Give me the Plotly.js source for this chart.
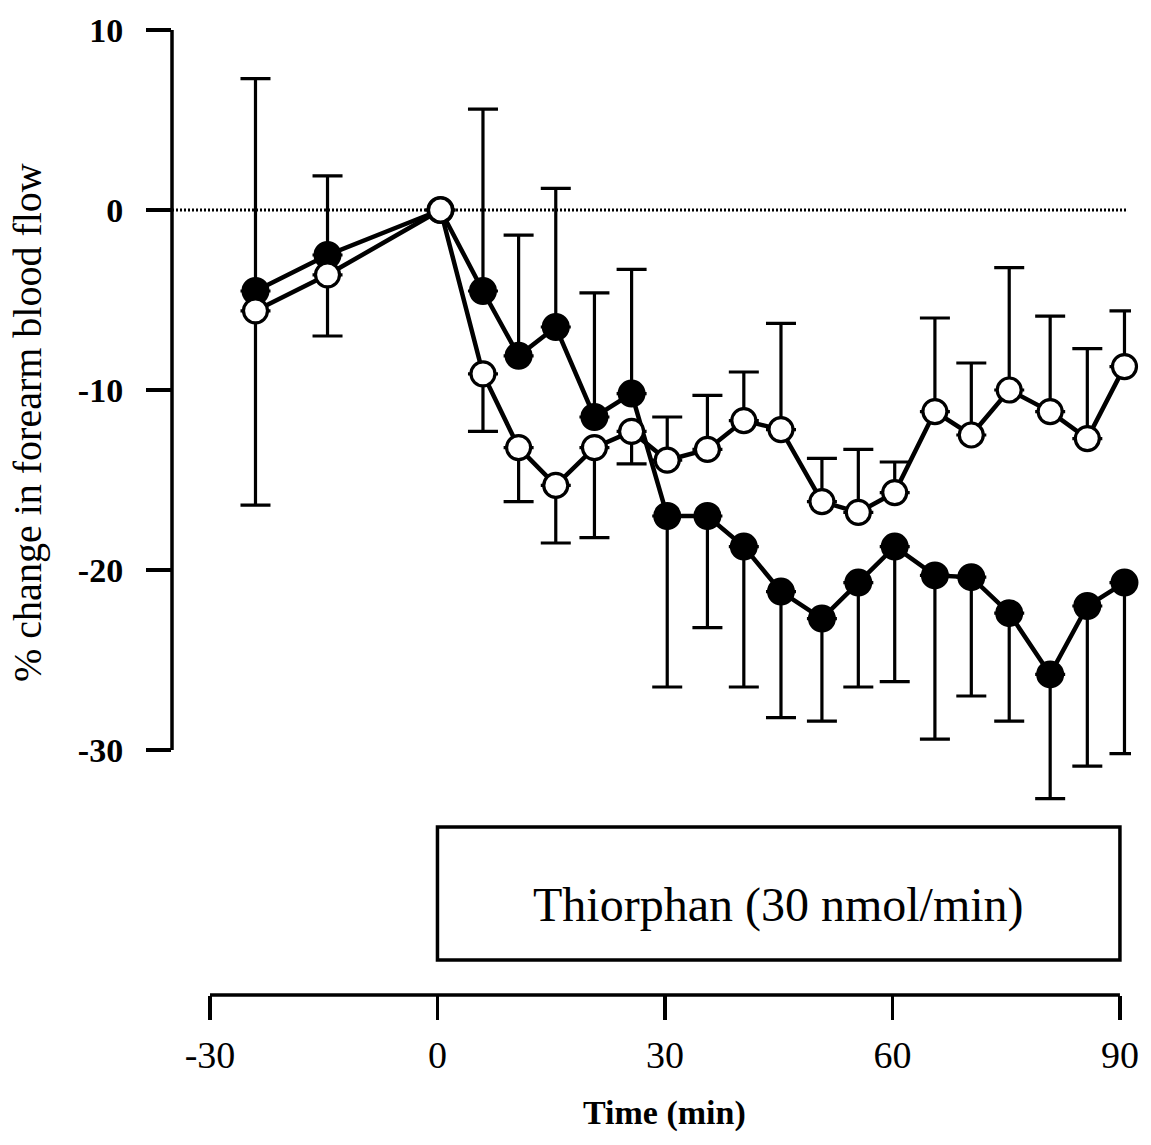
<!DOCTYPE html>
<html>
<head>
<meta charset="utf-8">
<script src="https://cdn.plot.ly/plotly-3.0.1.min.js"></script>
<style>html,body{margin:0;padding:0;background:#fff;}#chart{width:1151px;height:1145px;}</style>
</head>
<body>
<div id="chart"></div>
<script>
// Time points (min)
var time = [-24, -14.5, 0.4, 6, 10.7, 15.6, 20.7, 25.6, 30.3, 35.6, 40.4, 45.3, 50.7, 55.5, 60.3, 65.6, 70.4, 75.4, 80.8, 85.7, 90.6];

// Filled circles: % change in forearm blood flow
var filledMean = [-4.5, -2.5, 0, -4.5, -8.1, -6.5, -11.5, -10.2, -17.0, -17.0, -18.7, -21.2, -22.7, -20.7, -18.7, -20.3, -20.4, -22.4, -25.8, -22.0, -20.7];
var filledErrUp = [11.8, 4.4, 0, 10.1, 6.7, 7.7, 6.9, 6.9, 0, 0, 0, 0, 0, 0, 0, 0, 0, 0, 0, 0, 0];
var filledErrDown = [0, 0, 0, 0, 0, 0, 0, 0, 9.5, 6.2, 7.8, 7.0, 5.7, 5.8, 7.5, 9.1, 6.6, 6.0, 6.9, 8.9, 9.5];

// Open circles
var openMean = [-5.6, -3.6, 0, -9.1, -13.2, -15.3, -13.2, -12.3, -13.9, -13.3, -11.7, -12.2, -16.2, -16.8, -15.7, -11.2, -12.5, -10.0, -11.2, -12.7, -8.7];
var openErrUp = [0, 0, 0, 0, 0, 0, 0, 0, 2.4, 3.0, 2.7, 5.9, 2.4, 3.5, 1.7, 5.2, 4.0, 6.8, 5.3, 5.0, 3.1];
var openErrDown = [10.8, 3.4, 0, 3.2, 3.0, 3.2, 5.0, 1.8, 0, 0, 0, 0, 0, 0, 0, 0, 0, 0, 0, 0, 0];

var xTicks = [-30, 0, 30, 60, 90];
var yTicks = [10, 0, -10, -20, -30];
var xTitle = 'Time (min)';
var yTitle = '% change in forearm blood flow';
var boxLabel = 'Thiorphan (30 nmol/min)';
var infusionStart = 0, infusionEnd = 90;

var serif = 'Liberation Serif, DejaVu Serif, serif';

function errObj(up, down) {
  return {type: 'data', symmetric: false, array: up, arrayminus: down,
          color: '#000', thickness: 3.2, width: 15, visible: true};
}

var traces = [
  {x: time, y: filledMean, type: 'scatter', mode: 'lines+markers', name: 'filled',
   line: {color: '#000', width: 4.5},
   marker: {symbol: 'circle', size: 25, color: '#000', line: {color: '#000', width: 3}},
   error_y: errObj(filledErrUp, filledErrDown), cliponaxis: false},
  {x: time, y: openMean, type: 'scatter', mode: 'lines+markers', name: 'open',
   line: {color: '#000', width: 4.5},
   marker: {symbol: 'circle', size: 24, color: '#fff', line: {color: '#000', width: 3.2}},
   error_y: errObj(openErrUp, openErrDown), cliponaxis: false}
];

var layout = {
  width: 1151, height: 1145,
  margin: {l: 172, r: 20, t: 20, b: 150},
  paper_bgcolor: '#fff', plot_bgcolor: 'rgba(0,0,0,0)',
  showlegend: false,
  xaxis: {
    range: [-35.01, 91.46], anchor: 'free', position: 0,
    showgrid: false, zeroline: false, showline: false,
    tickmode: 'array', tickvals: xTicks, ticktext: xTicks.map(String),
    ticks: 'outside', ticklen: 24, tickwidth: 3.5, tickcolor: '#000',
    tickfont: {family: serif, size: 38, color: '#000'},
    ticklabelstandoff: 2
  },
  yaxis: {
    range: [-34, 10.556], domain: [0.177436, 1],
    showgrid: false, zeroline: false, showline: false,
    tickmode: 'array', tickvals: yTicks, ticktext: yTicks.map(String),
    ticks: 'outside', ticklen: 25, tickwidth: 3.5, tickcolor: '#000',
    tickfont: {family: serif, size: 34, color: '#000', weight: 'bold'},
    ticklabelstandoff: 16
  },
  shapes: [
    // zero reference line
    {type: 'line', xref: 'paper', yref: 'y', x0: 0, x1: 0.995, y0: 0, y1: 0,
     line: {color: '#000', width: 3, dash: '2px,2px'}, layer: 'below'},
    // y axis line
    {type: 'line', xref: 'paper', yref: 'y', x0: 0, x1: 0, y0: -30, y1: 10,
     line: {color: '#000', width: 3.5}},
    // x axis line
    {type: 'line', xref: 'x', yref: 'paper', x0: -30, x1: 90, y0: 0, y1: 0,
     line: {color: '#000', width: 3.5}},
    // infusion box
    {type: 'rect', xref: 'x', yref: 'paper', x0: infusionStart, x1: infusionEnd, y0: 0.0359, y1: 0.1723,
     line: {color: '#000', width: 3.5}, fillcolor: 'rgba(0,0,0,0)'}
  ],
  annotations: [
    {text: boxLabel, xref: 'x', yref: 'paper', x: (infusionStart + infusionEnd) / 2, y: 0.0923,
     showarrow: false, xanchor: 'center', yanchor: 'middle',
     font: {family: serif, size: 48, color: '#000'}},
    {text: xTitle, xref: 'x', yref: 'paper', x: 30, y: -0.121,
     showarrow: false, xanchor: 'center', yanchor: 'middle',
     font: {family: serif, size: 34, color: '#000', weight: 'bold'}},
    {text: yTitle, xref: 'paper', yref: 'paper', x: -0.1502, y: 0.5877, textangle: -90,
     showarrow: false, xanchor: 'center', yanchor: 'middle', borderpad: 0,
     font: {family: serif, size: 40, color: '#000'}}
  ]
};

Plotly.newPlot('chart', traces, layout, {displayModeBar: false, staticPlot: true});
</script>
</body>
</html>
